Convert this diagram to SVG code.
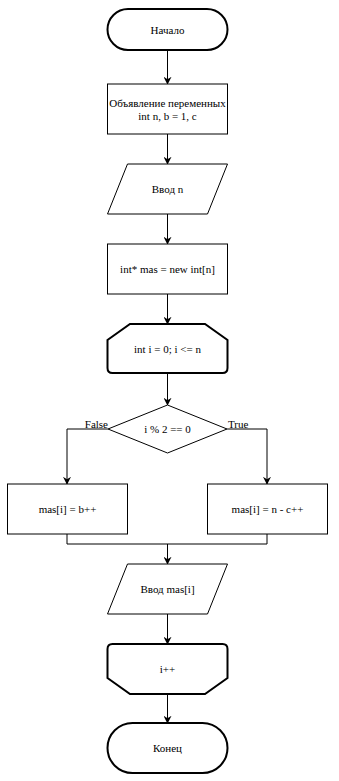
<svg xmlns="http://www.w3.org/2000/svg" width="339" height="781" viewBox="0 0 339 781">
<style>
.s{fill:#fff;stroke:#000;stroke-width:1}
.t{fill:#fff;stroke:#000;stroke-width:2}
.c{fill:none;stroke:#000;stroke-width:1}
text{font-family:"Liberation Serif","Times New Roman",serif;font-size:11px;fill:#000;text-anchor:middle;dominant-baseline:central}
.l{text-anchor:start}
.r{text-anchor:end}
</style>
<defs>
<marker id="a" viewBox="0 0 10 10" refX="9" refY="5" markerWidth="8" markerHeight="8" markerUnits="userSpaceOnUse" orient="auto">
<path d="M0,0 L10,5 L0,10 L3,5 Z" fill="#000"/>
</marker>
</defs>
<g id="connectors">
<path class="c" d="M167.5,50 V84" marker-end="url(#a)"/>
<path class="c" d="M167.5,134 V164" marker-end="url(#a)"/>
<path class="c" d="M167.5,214 V244" marker-end="url(#a)"/>
<path class="c" d="M167.5,294 V324" marker-end="url(#a)"/>
<path class="c" d="M167.5,373 V405" marker-end="url(#a)"/>
<path class="c" d="M108,429 H67 V484" marker-end="url(#a)"/>
<path class="c" d="M227,429 H267 V484" marker-end="url(#a)"/>
<path class="c" d="M67,534 V544 H267 V534"/>
<path class="c" d="M167.5,544 V564" marker-end="url(#a)"/>
<path class="c" d="M167.5,614 V644" marker-end="url(#a)"/>
<path class="c" d="M167.5,694 V723" marker-end="url(#a)"/>
<text class="r" x="108" y="424">False</text>
<text class="l" x="228" y="424">True</text>
</g>
<g id="start">
<rect class="t" x="107.5" y="9" width="120" height="41" rx="20.5" ry="20.5"/>
<text x="167.5" y="29.5">Начало</text>
</g>
<g id="decl">
<rect class="s" x="107.5" y="84" width="120" height="50"/>
<text x="167.5" y="103">Объявление переменных</text>
<text x="167.5" y="116">int n, b = 1, c</text>
</g>
<g id="input_n">
<path class="s" d="M127.5,164 H227.5 L207.5,214 H107.5 Z"/>
<text x="167.5" y="189">Ввод n</text>
</g>
<g id="alloc">
<rect class="s" x="107.5" y="244" width="120" height="50"/>
<text x="167.5" y="269">int* mas = new int[n]</text>
</g>
<g id="loop_start">
<path class="t" d="M130,324 H205 L227.5,340 V368 Q227.5,373 222.5,373 H112.5 Q107.5,373 107.5,368 V340 Z"/>
<text x="167.5" y="349">int i = 0; i &lt;= n</text>
</g>
<g id="cond">
<path class="s" d="M167.5,405 L227,429 L167.5,453 L108,429 Z"/>
<text x="167.5" y="429">i % 2 == 0</text>
</g>
<g id="false_box">
<rect class="s" x="7.5" y="484" width="120" height="50"/>
<text x="67.5" y="509">mas[i] = b++</text>
</g>
<g id="true_box">
<rect class="s" x="207.5" y="484" width="120" height="50"/>
<text x="267.5" y="509">mas[i] = n - c++</text>
</g>
<g id="input_mas">
<path class="s" d="M127.5,564 H227.5 L207.5,614 H107.5 Z"/>
<text x="167.5" y="589">Ввод mas[i]</text>
</g>
<g id="loop_end">
<path class="t" d="M112.5,644 H222.5 Q227.5,644 227.5,649 V678 L205,694 H130 L107.5,678 V649 Q107.5,644 112.5,644 Z"/>
<text x="167.5" y="669">i++</text>
</g>
<g id="end">
<rect class="t" x="107.5" y="723" width="120" height="50" rx="25" ry="25"/>
<text x="167.5" y="748">Конец</text>
</g>
</svg>
